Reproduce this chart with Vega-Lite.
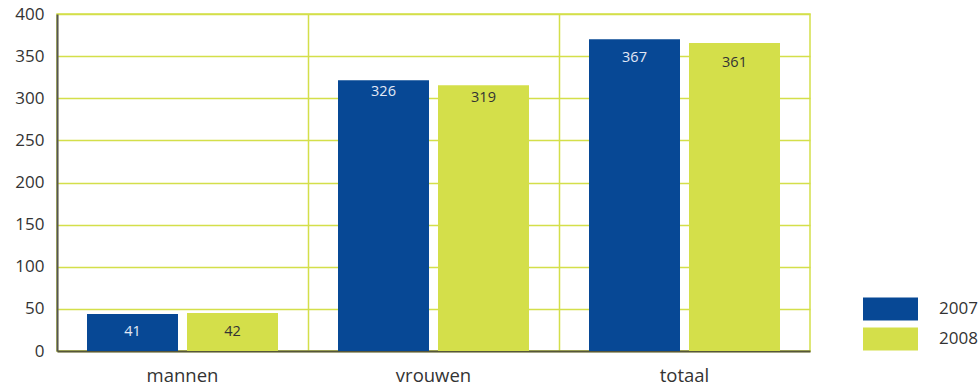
{
  "$schema": "https://vega.github.io/schema/vega-lite/v6.json",
  "width": 753,
  "height": 337,
  "autosize": {"type": "none"},
  "padding": {"left": 57, "top": 14, "right": 170, "bottom": 35},
  "background": "white",
  "config": {
    "view": {"stroke": "#d4df4a", "strokeWidth": 1.5},
    "font": "Open Sans",
    "legend": {"padding": 0}
  },
  "data": {
    "values": [
      {"groep": "mannen", "jaar": "2007", "hoogte": 44, "label": 41},
      {"groep": "mannen", "jaar": "2008", "hoogte": 45, "label": 42},
      {"groep": "vrouwen", "jaar": "2007", "hoogte": 321.5, "label": 326},
      {"groep": "vrouwen", "jaar": "2008", "hoogte": 315.5, "label": 319},
      {"groep": "totaal", "jaar": "2007", "hoogte": 370, "label": 367},
      {"groep": "totaal", "jaar": "2008", "hoogte": 365.5, "label": 361}
    ]
  },
  "encoding": {
    "x": {
      "field": "groep",
      "type": "nominal",
      "sort": ["mannen", "vrouwen", "totaal"],
      "scale": {"paddingInner": 0, "paddingOuter": 0},
      "axis": {
        "title": null,
        "labelAngle": 0,
        "labelFontSize": 18.5,
        "labelColor": "#333333",
        "labelPadding": 15,
        "ticks": false,
        "grid": true,
        "bandPosition": 0,
        "gridColor": "#d4df4a",
        "gridWidth": 1.5,
        "domainColor": "#55553a",
        "domainWidth": 2
      }
    },
    "xOffset": {
      "field": "jaar",
      "type": "nominal",
      "scale": {"paddingInner": 0.09, "paddingOuter": 0.3}
    }
  },
  "layer": [
    {
      "mark": {"type": "bar"},
      "encoding": {
        "y": {
          "field": "hoogte",
          "type": "quantitative",
          "scale": {"domain": [0, 400], "nice": false},
          "axis": {
            "title": null,
            "values": [0, 50, 100, 150, 200, 250, 300, 350, 400],
            "labelFontSize": 17,
            "labelColor": "#333333",
            "labelPadding": 13,
            "ticks": false,
            "grid": true,
            "gridColor": "#d4df4a",
            "gridWidth": 1.5,
            "domainColor": "#555555",
            "domainWidth": 2
          }
        },
        "color": {
          "field": "jaar",
          "type": "nominal",
          "scale": {"domain": ["2007", "2008"], "range": ["#074895", "#d4df4a"]},
          "legend": {
            "title": null,
            "orient": "none",
            "legendX": 806,
            "legendY": 281,
            "symbolType": "M-1,-0.42H1V0.42H-1Z",
            "symbolSize": 3025,
            "symbolStrokeWidth": 0,
            "symbolOpacity": 1,
            "clipHeight": 28,
            "rowPadding": 2,
            "labelFontSize": 17,
            "labelColor": "#333333",
            "labelOffset": 21
          }
        }
      }
    },
    {
      "mark": {"type": "text", "baseline": "middle", "dy": 16, "fontSize": 14.5},
      "encoding": {
        "y": {"field": "label", "type": "quantitative"},
        "text": {"field": "label", "type": "quantitative"},
        "fill": {
          "field": "jaar",
          "type": "nominal",
          "scale": {"domain": ["2007", "2008"], "range": ["#e2e8f5", "#333333"]},
          "legend": null
        }
      }
    }
  ],
  "resolve": {"scale": {"fill": "independent"}}
}
